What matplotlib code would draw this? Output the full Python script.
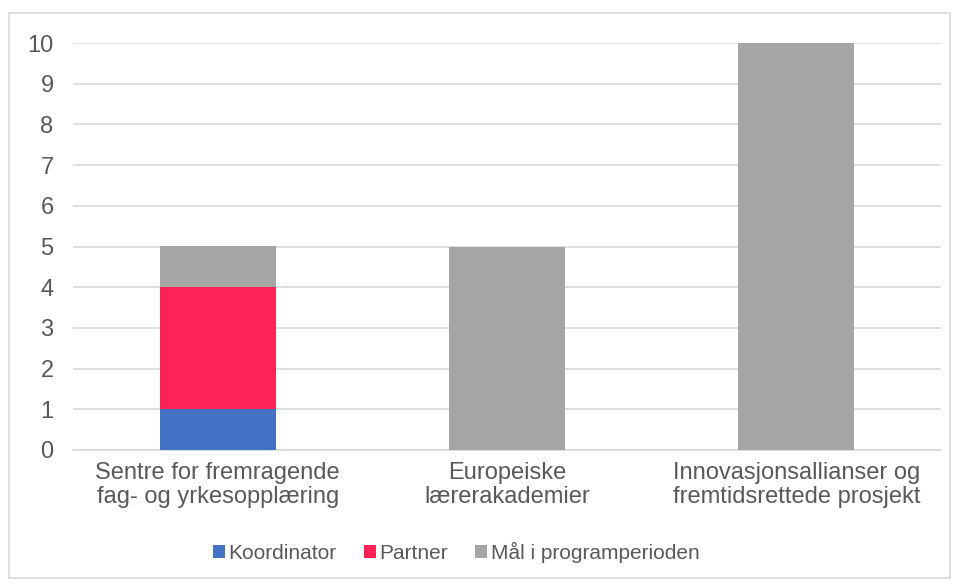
import matplotlib.pyplot as plt
from matplotlib.patches import Rectangle

plt.rcParams['font.family'] = ['Liberation Sans', 'DejaVu Sans']

categories = ['Sentre for fremragende\nfag- og yrkesopplæring',
              'Europeiske\nlærerakademier',
              'Innovasjonsallianser og\nfremtidsrettede prosjekt']
koordinator = [1, 0, 0]
partner = [3, 0, 0]
maal = [1, 5, 10]
series_names = ['Koordinator', 'Partner', 'Mål i programperioden']
colors = ['#4472C4', '#FF2257', '#A5A5A5']
text_color = '#595959'

fig = plt.figure(figsize=(9.57, 5.84), dpi=100)
ax = fig.add_axes([73 / 957, 1 - 450 / 584, 868 / 957, 407 / 584])

x = range(len(categories))
bottom2 = [a + b for a, b in zip(koordinator, partner)]
ax.bar(x, koordinator, width=0.4, color=colors[0], label=series_names[0], zorder=3)
ax.bar(x, partner, width=0.4, bottom=koordinator, color=colors[1], label=series_names[1], zorder=3)
ax.bar(x, maal, width=0.4, bottom=bottom2, color=colors[2], label=series_names[2], zorder=3)

ax.set_xlim(-0.5, 2.5)
ax.set_ylim(0, 10)
ax.set_yticks(range(0, 11))
ax.set_xticks(list(x))
ax.set_xticklabels(categories, linespacing=1.1)
ax.grid(axis='y', color='#D9D9D9', linewidth=1.2, zorder=0)
for s in ['top', 'right', 'left']:
    ax.spines[s].set_visible(False)
ax.spines['bottom'].set_color('#D9D9D9')
ax.spines['bottom'].set_linewidth(1.2)
ax.tick_params(axis='both', length=0, labelsize=17, colors=text_color)
ax.tick_params(axis='y', pad=14)
ax.tick_params(axis='x', pad=9)

leg = fig.legend(loc='center', bbox_to_anchor=(456 / 957, 1 - 552 / 584), ncol=3,
                 frameon=False, fontsize=15, handlelength=0.6, handleheight=0.6,
                 handletextpad=0.15, columnspacing=1.3)
for t in leg.get_texts():
    t.set_color(text_color)

fig.patches.append(Rectangle((9 / 957, 1 - 578 / 584), 941 / 957, 565 / 584,
                             transform=fig.transFigure, fill=False,
                             edgecolor='#D9D9D9', linewidth=1.2))

fig.savefig('out.png', dpi=100)
